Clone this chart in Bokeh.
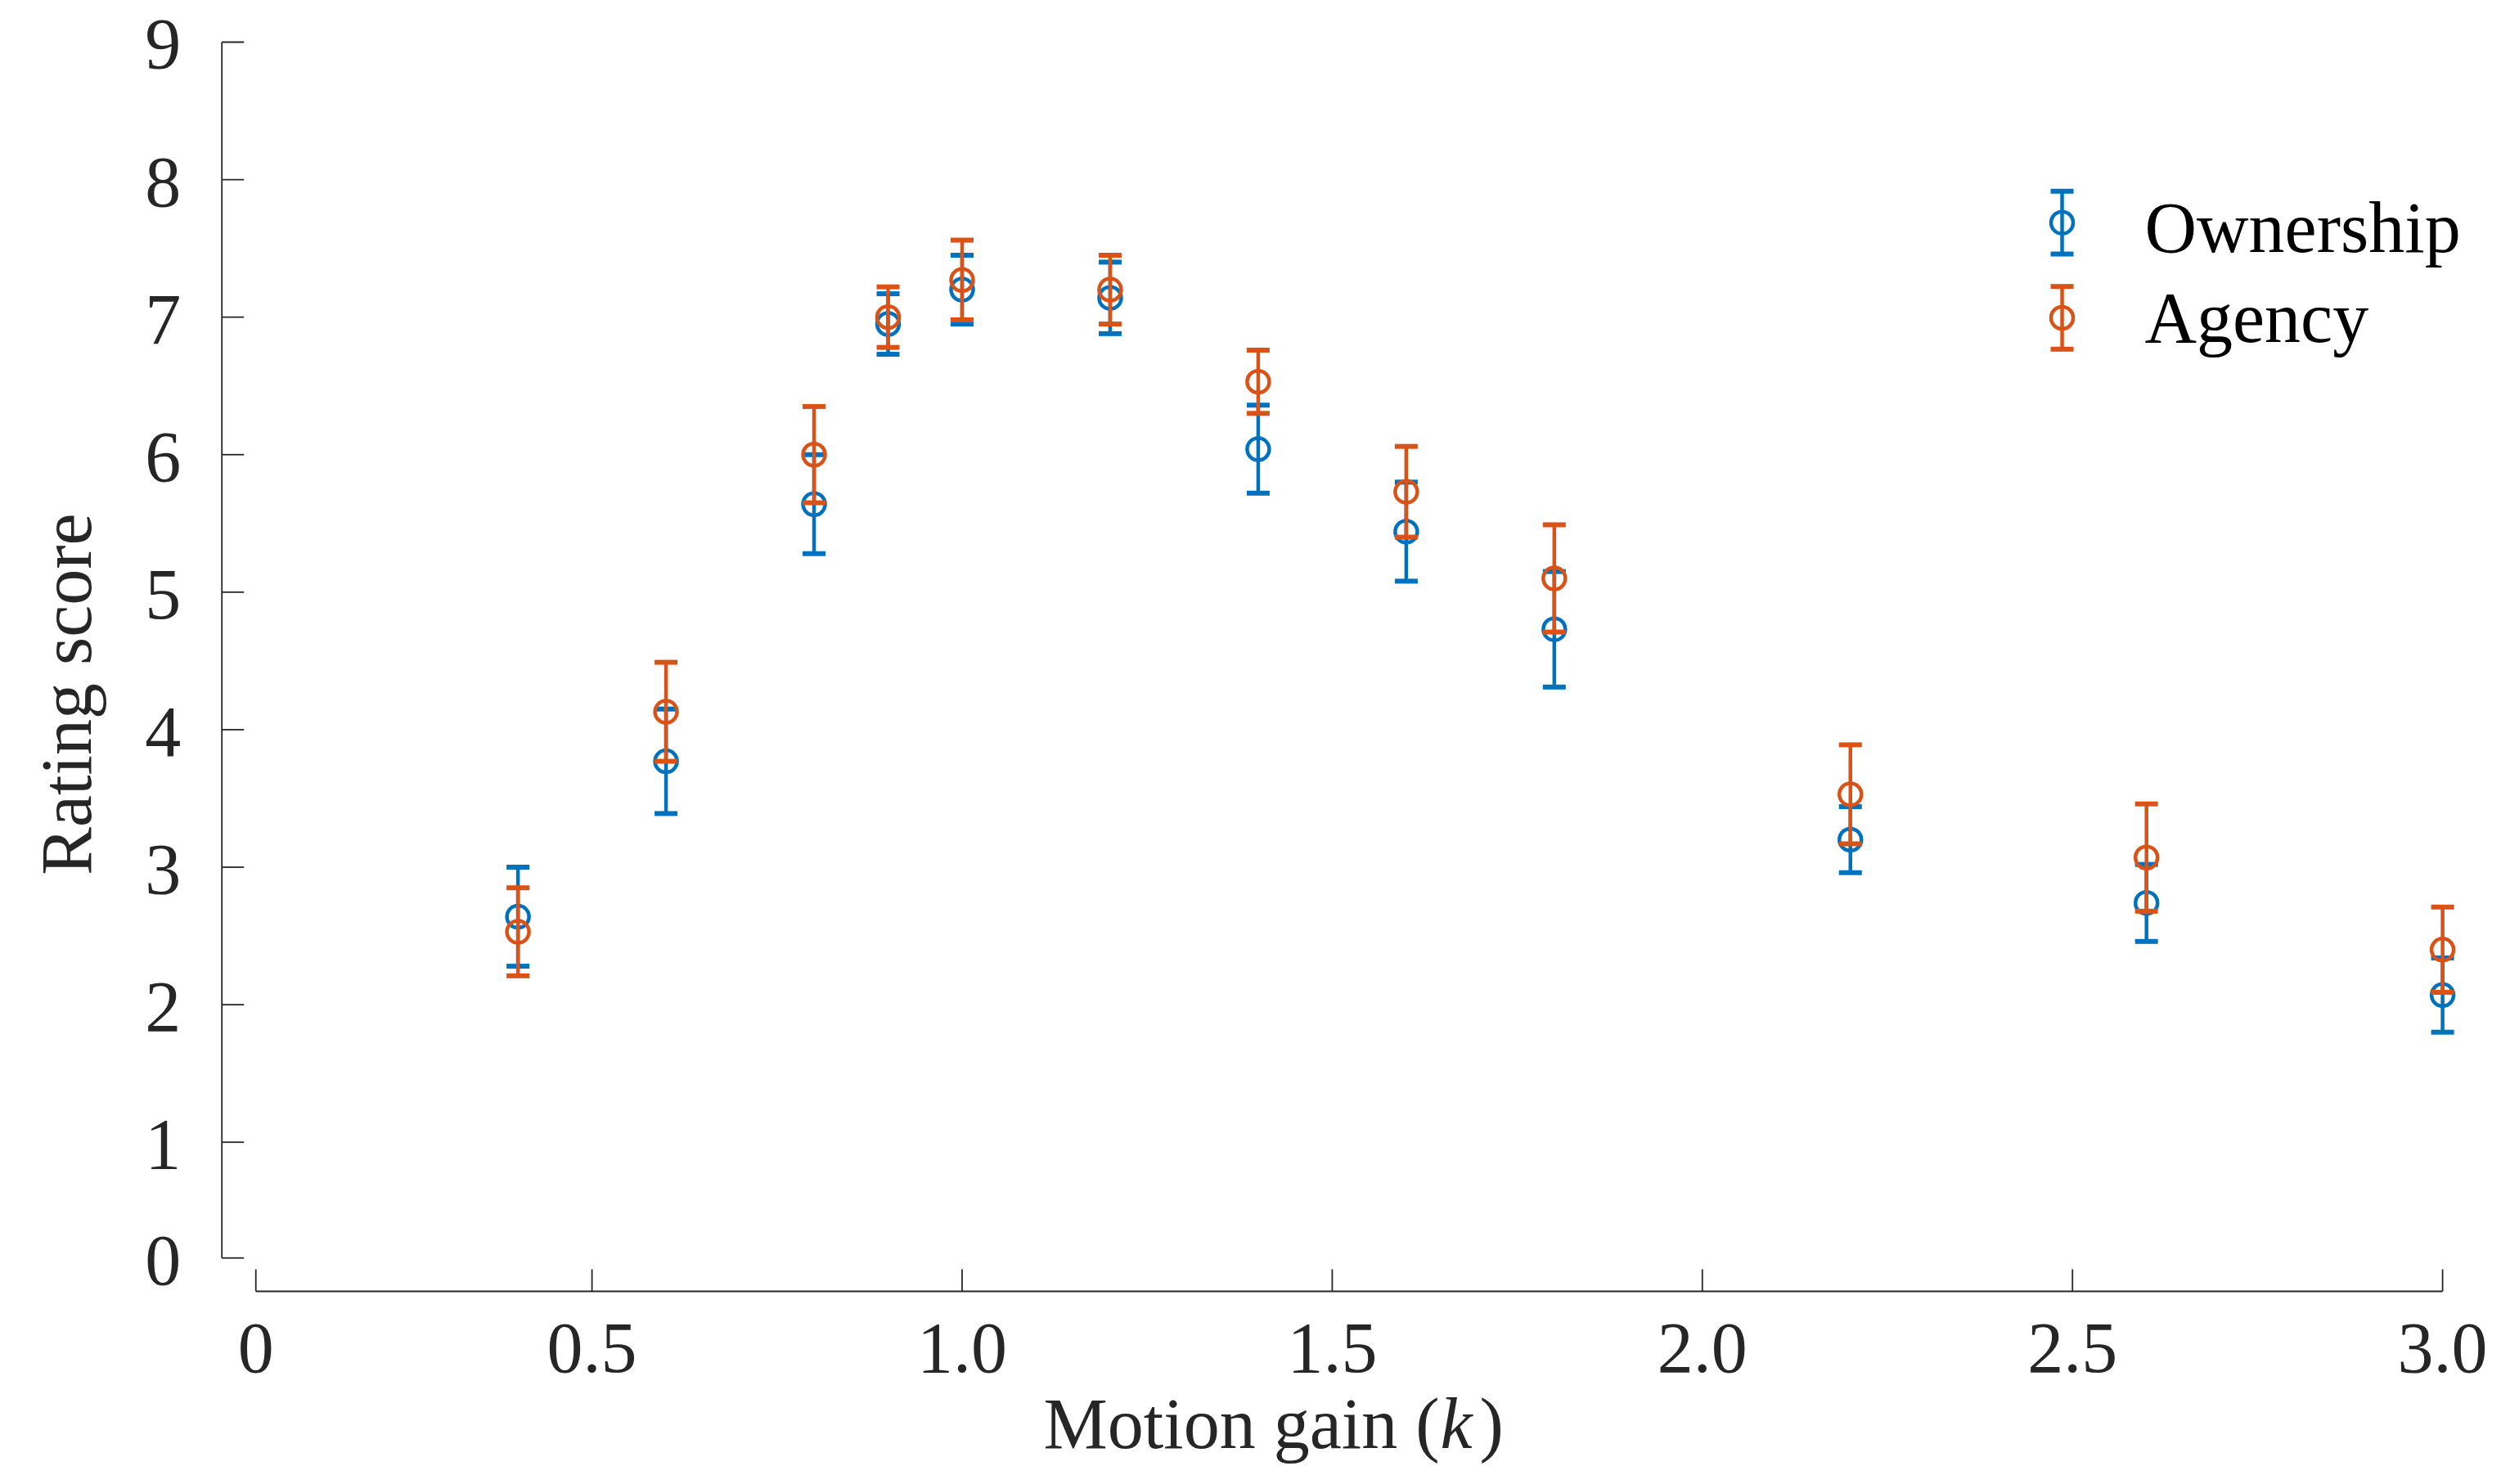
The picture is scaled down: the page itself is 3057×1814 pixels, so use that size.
import math
from bokeh.plotting import figure
from bokeh.models import Range1d, Label, ColumnDataSource
from bokeh.core.properties import value
from bokeh.embed import file_html
from bokeh.resources import INLINE

# ---------------- data ----------------
gain = [0.4, 0.6, 0.8, 0.9, 1.0, 1.2, 1.4, 1.6, 1.8, 2.2, 2.6, 3.0]
ownership_mean = [2.64, 3.77, 5.64, 6.95, 7.20, 7.14, 6.04, 5.44, 4.73, 3.20, 2.74, 2.07]
ownership_err = [0.36, 0.38, 0.36, 0.22, 0.25, 0.26, 0.32, 0.36, 0.42, 0.24, 0.28, 0.27]
agency_mean = [2.53, 4.13, 6.00, 7.00, 7.27, 7.20, 6.53, 5.73, 5.10, 3.53, 3.07, 2.40]
agency_err = [0.32, 0.36, 0.35, 0.22, 0.29, 0.25, 0.23, 0.33, 0.39, 0.36, 0.39, 0.31]

series_names = ["Ownership", "Agency"]

x_ticks = [0.0459, 0.5, 1.0, 1.5, 2.0, 2.5, 3.0]
x_tick_labels = ["0", "0.5", "1.0", "1.5", "2.0", "2.5", "3.0"]
y_ticks = [0.158, 1, 2, 3, 4, 5, 6, 7, 8, 9]
y_tick_labels = ["0", "1", "2", "3", "4", "5", "6", "7", "8", "9"]

# ---------------- style / geometry ----------------
BLUE = "#0072BD"
ORANGE = "#D95319"
AXIS_COLOR = "#262626"
FONT = "Liberation Serif"
FONT_SIZE = "88px"

W, H = 3041, 1798
X_START, X_END = -0.29918, 3.06178
Y_START, Y_END = -1.3934, 9.3033
PX_PER_X = W / (X_END - X_START)
PX_PER_Y = H / (Y_END - Y_START)

X_AXIS_Y = -0.0845       # where the (offset) x axis line sits
Y_AXIS_X = 0.0           # where the y axis line sits
TICK_LEN_PX = 27

p = figure(
    width=W, height=H,
    x_range=Range1d(X_START, X_END), y_range=Range1d(Y_START, Y_END),
    x_axis_type=None, y_axis_type=None,
    output_backend="svg", toolbar_location=None,
    min_border=0,
)
p.outline_line_color = None
p.background_fill_color = "white"
p.border_fill_color = "white"

# ---------------- axes (MATLAB-like offset axes, ticks pointing inward) ----------------
p.segment(x0=[Y_AXIS_X], y0=[y_ticks[0]], x1=[Y_AXIS_X], y1=[y_ticks[-1]],
          line_color=AXIS_COLOR, line_width=1.8)
p.segment(x0=[Y_AXIS_X] * len(y_ticks), y0=y_ticks,
          x1=[Y_AXIS_X + TICK_LEN_PX / PX_PER_X] * len(y_ticks), y1=y_ticks,
          line_color=AXIS_COLOR, line_width=1.8)
p.text(x=[Y_AXIS_X] * len(y_ticks), y=y_ticks, text=y_tick_labels,
       x_offset=-50, y_offset=3, text_align="right", text_baseline="alphabetic",
       text_font=value(FONT), text_font_size=value(FONT_SIZE), text_color=AXIS_COLOR)

p.segment(x0=[x_ticks[0]], y0=[X_AXIS_Y], x1=[x_ticks[-1]], y1=[X_AXIS_Y],
          line_color=AXIS_COLOR, line_width=1.8)
p.segment(x0=x_ticks, y0=[X_AXIS_Y] * len(x_ticks),
          x1=x_ticks, y1=[X_AXIS_Y + TICK_LEN_PX / PX_PER_Y] * len(x_ticks),
          line_color=AXIS_COLOR, line_width=1.8)
p.text(x=x_ticks, y=[X_AXIS_Y] * len(x_ticks), text=x_tick_labels,
       y_offset=70, text_align="center", text_baseline="alphabetic",
       text_font=value(FONT), text_font_size=value(FONT_SIZE), text_color=AXIS_COLOR)


# ---------------- error bars ----------------
def draw_errorbars(xs, mean, err, color):
    lower = [m - e for m, e in zip(mean, err)]
    upper = [m + e for m, e in zip(mean, err)]
    src = ColumnDataSource(dict(x=xs, mean=mean, lower=lower, upper=upper))
    p.segment(x0="x", y0="lower", x1="x", y1="upper", source=src,
              line_color=color, line_width=4.5)
    p.scatter("x", "upper", source=src, marker="dash", size=28,
              line_color=color, line_width=6)
    p.scatter("x", "lower", source=src, marker="dash", size=28,
              line_color=color, line_width=6)
    p.scatter("x", "mean", source=src, marker="circle", size=27,
              fill_color=None, line_color=color, line_width=4.5)


draw_errorbars(gain, ownership_mean, ownership_err, BLUE)
draw_errorbars(gain, agency_mean, agency_err, ORANGE)

# ---------------- legend (MATLAB errorbar-style icons) ----------------
legend_icon_x = 2.4860
legend_text_x = 2.5976
legend_center_y = [7.687, 6.995]
legend_half_height = 0.228
legend_text_y = [7.650, 6.996]
legend_colors = [BLUE, ORANGE]

for name, cy, ty, col in zip(series_names, legend_center_y, legend_text_y, legend_colors):
    draw_errorbars([legend_icon_x], [cy], [legend_half_height], col)
    p.add_layout(Label(x=legend_text_x, y=ty, text=name, text_font=FONT,
                       text_font_size=FONT_SIZE, text_color="black",
                       text_align="left", text_baseline="alphabetic"))

# ---------------- axis titles ----------------
title_y = -1.048
p.add_layout(Label(x=1.1100, y=title_y, text="Motion gain (", text_font=FONT,
                   text_font_size=FONT_SIZE, text_color=AXIS_COLOR,
                   text_align="left", text_baseline="alphabetic"))
p.add_layout(Label(x=1.6460, y=title_y, text="k", text_font=FONT,
                   text_font_style="italic",
                   text_font_size=FONT_SIZE, text_color=AXIS_COLOR,
                   text_align="left", text_baseline="alphabetic"))
p.add_layout(Label(x=1.6990, y=title_y, text=")", text_font=FONT,
                   text_font_size=FONT_SIZE, text_color=AXIS_COLOR,
                   text_align="left", text_baseline="alphabetic"))

p.add_layout(Label(x=-0.2097, y=4.258, text="Rating score", text_font=FONT,
                   text_font_size=FONT_SIZE, text_color=AXIS_COLOR,
                   angle=math.pi / 2, angle_units="rad",
                   text_align="center", text_baseline="alphabetic"))

with open("out.html", "w") as f:
    f.write(file_html(p, INLINE))
